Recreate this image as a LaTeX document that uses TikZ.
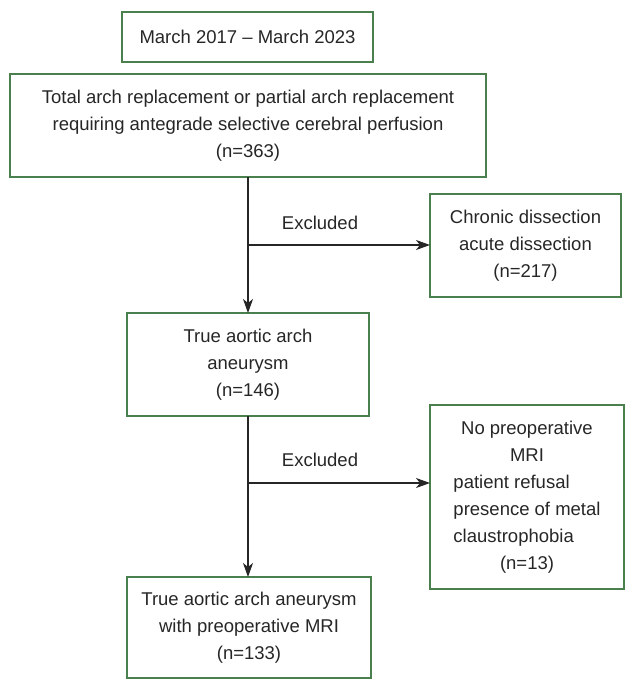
\documentclass[tikz,border=0pt]{standalone}
\usepackage{fontspec}
\setmainfont{Liberation Sans}
\usetikzlibrary{arrows.meta, positioning}
\definecolor{boxgreen}{RGB}{74,128,78}
\definecolor{inkgray}{RGB}{38,38,38}

\begin{document}
\begin{tikzpicture}[x=1pt,y=-1pt,every node/.style={draw=boxgreen,line width=1.1pt,outer sep=0pt,text=inkgray,font=\fontsize{18.5}{27}\selectfont,align=center}]
\tikzstyle{flow}=[inkgray,line width=1.1pt,-{Stealth[length=14pt,width=10pt,inset=4pt]}]
\tikzstyle{tag}=[draw=none,inner sep=0pt]

\useasboundingbox (0,0) rectangle (627,679);

\node (period) [minimum width=251pt, minimum height=50pt] at (247.5,37) {March 2017 -- March 2023};
\node (arch) [minimum width=476pt, minimum height=103pt] at (248,125.5) {Total arch replacement or partial arch replacement\\requiring antegrade selective cerebral perfusion\\(n=363)};
\node (dissect) [minimum width=191pt, minimum height=103pt] at (525.5,245.5) {Chronic dissection\\acute dissection\\(n=217)};
\node (true) [minimum width=242pt, minimum height=103pt] at (248,364.5) {True aortic arch\\aneurysm\\(n=146)};
\node (nomri) [minimum width=194pt, minimum height=184pt] at (527,497) {\begin{tabular}{@{}l@{}}\multicolumn{1}{c}{No preoperative}\\\multicolumn{1}{c}{MRI}\\patient refusal\\presence of metal\\claustrophobia\\\multicolumn{1}{c}{(n=13)}\end{tabular}};
\node (mri) [minimum width=244pt, minimum height=101pt] at (249,627.5) {True aortic arch aneurysm\\with preoperative MRI\\(n=133)};

% exclusion branches
\coordinate (b1) at (248,245);
\coordinate (b2) at (248,483);

\draw [flow] (arch.south) -- (true.north);
\draw [flow] (b1) -- (b1 -| dissect.west);
\node (ex1) [tag] at (320,223) {Excluded};

\draw [flow] (true.south) -- (true.south |- mri.north);
\draw [flow] (b2) -- (b2 -| nomri.west);
\node (ex2) [tag] at (320,460) {Excluded};

\end{tikzpicture}
\end{document}
